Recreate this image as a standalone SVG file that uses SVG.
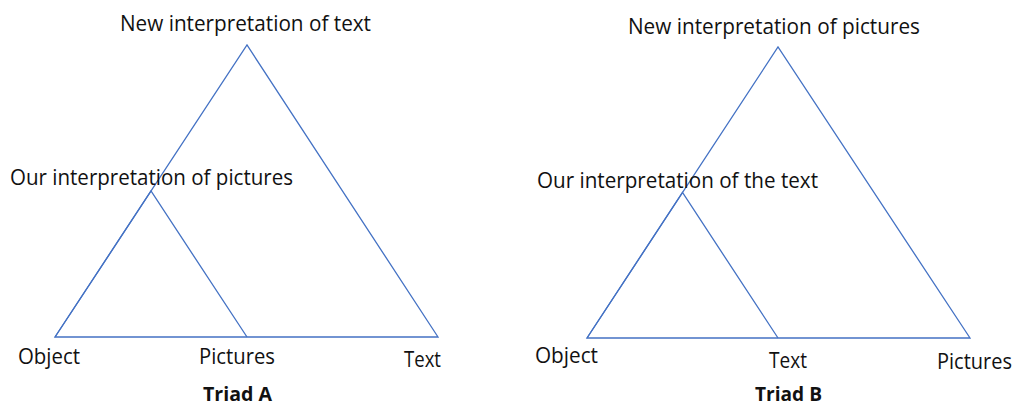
<svg xmlns="http://www.w3.org/2000/svg" width="1015" height="407" viewBox="0 0 1015 407">
  <style>
    .edge { fill: none; stroke: #4472C4; stroke-width: 1.3; stroke-linejoin: miter; }
    .lbl { font-family: "Open Sans", "Liberation Sans", sans-serif; font-size: 21px; fill: #111111; }
    .title { font-family: "Open Sans", "Liberation Sans", sans-serif; font-size: 19px; font-weight: bold; fill: #111111; }
  </style>
  <rect width="1015" height="407" fill="#ffffff"/>

  <!-- connectors: outer and inner triangles of both triads -->
  <g id="connectors">
    <polygon class="edge" points="55,337 247,45 438,337"/>
    <polyline class="edge" points="55,337 151,191 247,337"/>
    <polygon class="edge" points="587,338 778,47 970,338"/>
    <polyline class="edge" points="587,338 682.5,192.5 778,338"/>
  </g>

  <!-- Triad A -->
  <g id="a-new-interp"><text class="lbl" x="120" y="31" textLength="251" lengthAdjust="spacingAndGlyphs">New interpretation of text</text></g>
  <g id="a-our-interp"><text class="lbl" x="10" y="185" textLength="283" lengthAdjust="spacingAndGlyphs">Our interpretation of pictures</text></g>
  <g id="a-object"><text class="lbl" x="18" y="364" textLength="62" lengthAdjust="spacingAndGlyphs">Object</text></g>
  <g id="a-pictures"><text class="lbl" x="199" y="364" textLength="76" lengthAdjust="spacingAndGlyphs">Pictures</text></g>
  <g id="a-text"><text class="lbl" x="404" y="367" textLength="37" lengthAdjust="spacingAndGlyphs">Text</text></g>
  <g id="a-title"><text class="title" x="203" y="401" textLength="69" lengthAdjust="spacingAndGlyphs">Triad A</text></g>

  <!-- Triad B -->
  <g id="b-new-interp"><text class="lbl" x="628" y="34" textLength="292" lengthAdjust="spacingAndGlyphs">New interpretation of pictures</text></g>
  <g id="b-our-interp"><text class="lbl" x="537" y="188" textLength="281" lengthAdjust="spacingAndGlyphs">Our interpretation of the text</text></g>
  <g id="b-object"><text class="lbl" x="535" y="363" textLength="63" lengthAdjust="spacingAndGlyphs">Object</text></g>
  <g id="b-text"><text class="lbl" x="769" y="368" textLength="38" lengthAdjust="spacingAndGlyphs">Text</text></g>
  <g id="b-pictures"><text class="lbl" x="937" y="369" textLength="75" lengthAdjust="spacingAndGlyphs">Pictures</text></g>
  <g id="b-title"><text class="title" x="755" y="401" textLength="67" lengthAdjust="spacingAndGlyphs">Triad B</text></g>
</svg>
